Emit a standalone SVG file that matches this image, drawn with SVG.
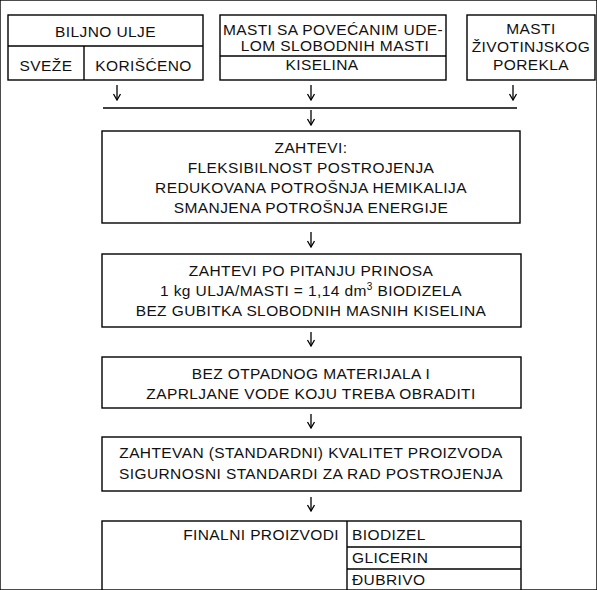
<svg xmlns="http://www.w3.org/2000/svg" width="597" height="590" viewBox="0 0 597 590">
<defs>
<marker id="ah" markerWidth="10" markerHeight="10" refX="9" refY="5" orient="auto" markerUnits="userSpaceOnUse" viewBox="0 0 10 10">
<path d="M3,1.5 L9,5 L3,8.5" fill="none" stroke="#000" stroke-width="1.3"/>
</marker>
</defs>
<style>
rect, line.b { fill: none; stroke: #000; stroke-width: 1.4; }
text { font-family: "Liberation Sans", Arial, sans-serif; font-size: 15.5px; letter-spacing: 0.4px; fill: #111; }
.c { text-anchor: middle; }
.r { text-anchor: end; }
.conn line { stroke: #000; stroke-width: 1.3; }
.conn line.a { marker-end: url(#ah); }
</style>
<rect x="0" y="0" width="597" height="590" fill="#fff" stroke="none"/>

<g id="biljno-ulje">
<rect x="8" y="15" width="195" height="65"/>
<line class="b" x1="8" y1="46" x2="203" y2="46"/>
<line class="b" x1="84" y1="46" x2="84" y2="80"/>
<text class="c" x="105.5" y="37">BILJNO ULJE</text>
<text class="c" x="46" y="71">SVEŽE</text>
<text class="c" x="143.5" y="71">KORIŠĆENO</text>
</g>

<g id="masti-slobodne">
<rect x="220" y="15" width="226" height="65"/>
<line class="b" x1="220" y1="56" x2="446" y2="56"/>
<text class="c" x="333" y="35">MASTI SA POVEĆANIM UDE-</text>
<text class="c" x="335" y="51">LOM SLOBODNIH MASTI</text>
<text class="c" x="322" y="70">KISELINA</text>
</g>

<g id="masti-zivotinjske">
<rect x="467" y="15" width="128" height="65"/>
<text class="c" x="531" y="34">MASTI</text>
<text class="c" x="531" y="52">ŽIVOTINJSKOG</text>
<text class="c" x="531" y="70">POREKLA</text>
</g>

<g id="zahtevi">
<rect x="102" y="131" width="418" height="92"/>
<text class="c" x="311" y="153">ZAHTEVI:</text>
<text class="c" x="311" y="173">FLEKSIBILNOST POSTROJENJA</text>
<text class="c" x="311" y="193">REDUKOVANA POTROŠNJA HEMIKALIJA</text>
<text class="c" x="311" y="213">SMANJENA POTROŠNJA ENERGIJE</text>
</g>

<g id="prinos">
<rect x="102" y="254" width="419" height="73"/>
<text class="c" x="311" y="276">ZAHTEVI PO PITANJU PRINOSA</text>
<text class="c" x="311" y="296">1 kg ULJA/MASTI = 1,14 dm<tspan dy="-6" font-size="10px">3</tspan><tspan dy="6"> BIODIZELA</tspan></text>
<text class="c" x="311" y="316">BEZ GUBITKA SLOBODNIH MASNIH KISELINA</text>
</g>

<g id="otpad">
<rect x="102" y="357" width="419" height="51"/>
<text class="c" x="311" y="379">BEZ OTPADNOG MATERIJALA I</text>
<text class="c" x="311" y="399">ZAPRLJANE VODE KOJU TREBA OBRADITI</text>
</g>

<g id="kvalitet">
<rect x="102" y="437" width="419" height="54"/>
<text class="c" x="311" y="458">ZAHTEVAN (STANDARDNI) KVALITET PROIZVODA</text>
<text class="c" x="311" y="479">SIGURNOSNI STANDARDI ZA RAD POSTROJENJA</text>
</g>

<g id="finalni-proizvodi">
<rect x="102" y="521" width="419" height="80"/>
<line class="b" x1="347" y1="521" x2="347" y2="601"/>
<line class="b" x1="347" y1="547" x2="521" y2="547"/>
<line class="b" x1="347" y1="569" x2="521" y2="569"/>
<text class="r" x="339" y="540">FINALNI PROIZVODI</text>
<text x="352" y="540">BIODIZEL</text>
<text x="352" y="563">GLICERIN</text>
<text x="352" y="585">ĐUBRIVO</text>
</g>

<g class="conn" id="connectors">
<line class="a" x1="117" y1="85" x2="117" y2="100"/>
<line class="a" x1="311" y1="85" x2="311" y2="100"/>
<line class="a" x1="513" y1="85" x2="513" y2="100"/>
<line x1="103" y1="108" x2="517" y2="108"/>
<line class="a" x1="311" y1="110" x2="311" y2="125"/>
<line class="a" x1="311" y1="232" x2="311" y2="247"/>
<line class="a" x1="311" y1="332" x2="311" y2="346"/>
<line class="a" x1="311" y1="414" x2="311" y2="428"/>
<line class="a" x1="311" y1="497" x2="311" y2="511"/>
</g>
</svg>
